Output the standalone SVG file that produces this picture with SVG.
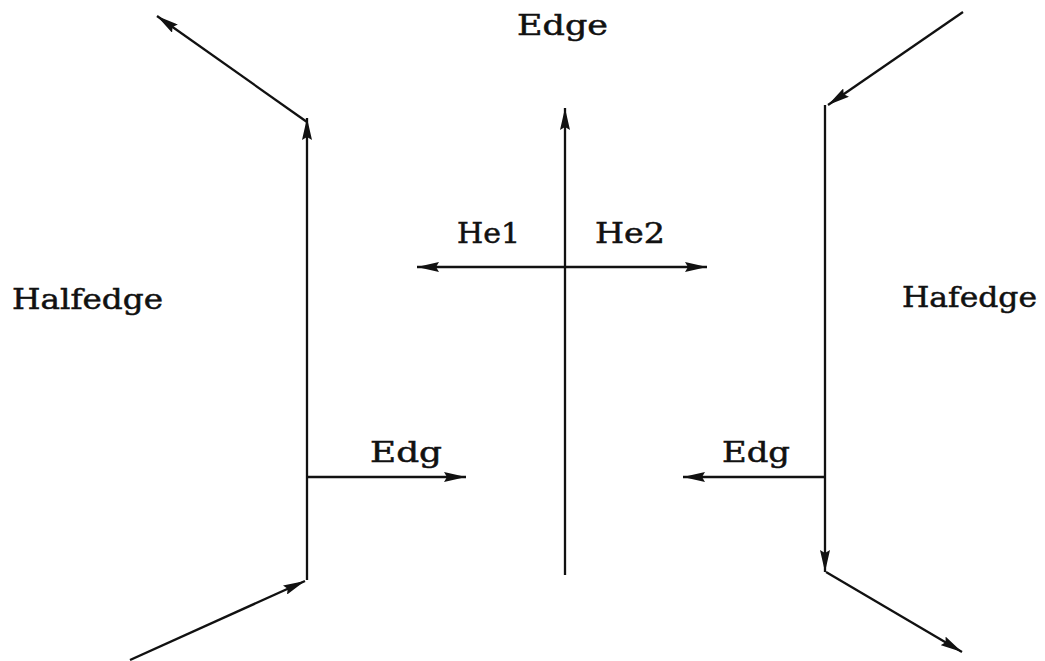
<svg xmlns="http://www.w3.org/2000/svg" width="1045" height="661" viewBox="0 0 1045 661">
<style>
.c{stroke:#111;stroke-width:2.3;fill:none;marker-end:url(#ah)}
.t{font-family:"DejaVu Serif","Liberation Serif",serif;font-size:27px;fill:#111;stroke:#111;stroke-width:0.5}
</style>
<defs>
<marker id="ah" viewBox="0 0 22 10" refX="22" refY="5" markerWidth="22" markerHeight="10" markerUnits="userSpaceOnUse" orient="auto">
<path d="M0,0 L22,5 L0,10 L3,5 z" fill="#111"/>
</marker>
</defs>
<rect width="1045" height="661" fill="#fff"/>
<g id="connectors">
<line class="c" x1="130" y1="660" x2="305" y2="581"/>
<line class="c" x1="307" y1="580" x2="307" y2="118"/>
<line class="c" x1="307" y1="122" x2="157" y2="16"/>
<line class="c" x1="307" y1="477" x2="466" y2="477"/>
<line class="c" x1="565" y1="575" x2="565" y2="108"/>
<line class="c" x1="565" y1="267" x2="417" y2="267"/>
<line class="c" x1="565" y1="267" x2="707" y2="267"/>
<line class="c" x1="963" y1="12" x2="828" y2="105"/>
<line class="c" x1="825" y1="105" x2="825" y2="572"/>
<line class="c" x1="826" y1="572" x2="962" y2="652"/>
<line class="c" x1="825" y1="477" x2="683" y2="477"/>
</g>
<g id="edge-label"><text class="t" x="517" y="35" textLength="91" lengthAdjust="spacingAndGlyphs">Edge</text></g>
<g id="he1-label"><text class="t" x="457" y="243" textLength="63" lengthAdjust="spacingAndGlyphs">He1</text></g>
<g id="he2-label"><text class="t" x="595" y="243" textLength="70" lengthAdjust="spacingAndGlyphs">He2</text></g>
<g id="halfedge-label"><text class="t" x="12" y="309" textLength="151" lengthAdjust="spacingAndGlyphs">Halfedge</text></g>
<g id="hafedge-label"><text class="t" x="902" y="307" textLength="135" lengthAdjust="spacingAndGlyphs">Hafedge</text></g>
<g id="edg-left-label"><text class="t" x="370" y="462" textLength="72" lengthAdjust="spacingAndGlyphs">Edg</text></g>
<g id="edg-right-label"><text class="t" x="722" y="462" textLength="68" lengthAdjust="spacingAndGlyphs">Edg</text></g>
</svg>
